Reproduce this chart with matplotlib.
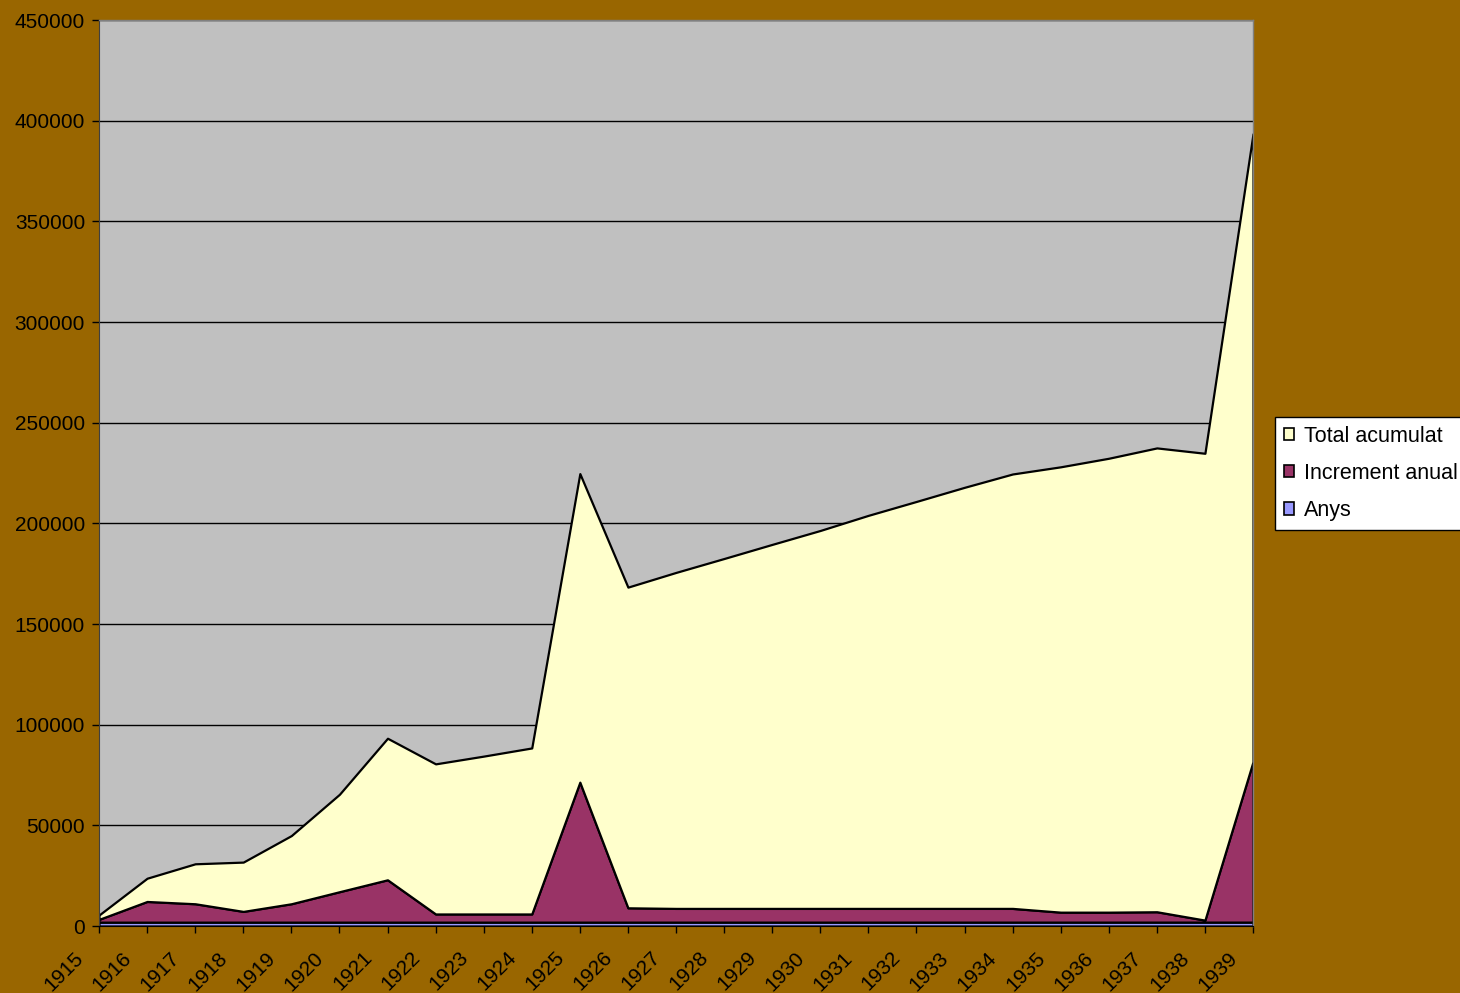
import matplotlib
matplotlib.use('Agg')
import matplotlib.pyplot as plt
import matplotlib.transforms as mtransforms

years = list(range(1915, 1940))
anys = years
increment = [1380, 10270, 9130, 5330, 9130, 15110, 21030, 4050, 4050, 4050,
             69520, 7110, 6810, 6810, 6810, 6810, 6810, 6810, 6810, 6810,
             4940, 4940, 5140, 990, 79690]
total = [2170, 11550, 19850, 24490, 33870, 48390, 70310, 74560, 78410, 82460,
         153260, 159280, 166890, 173800, 180810, 187720, 195230, 202140, 209150, 215770,
         221200, 225450, 230380, 231870, 311850]

plt.rcParams['font.family'] = ['Liberation Sans', 'DejaVu Sans']

fig = plt.figure(figsize=(14.6, 9.93), dpi=100)
fig.patch.set_facecolor('#996600')
ax = fig.add_axes([99 / 1460, 67 / 993, 1154 / 1460, 906 / 993])
ax.set_facecolor('#C0C0C0')

polys = ax.stackplot(years, anys, increment, total,
                     colors=['#9999FF', '#993366', '#FFFFCC'],
                     edgecolor='black', linewidth=1.6,
                     labels=['Anys', 'Increment anual', 'Total acumulat'])

ax.set_xlim(1915, 1939)
ax.set_ylim(0, 450000)
ax.set_yticks(range(0, 450001, 50000))
ax.set_yticklabels([str(v) for v in range(0, 450001, 50000)])
ax.set_xticks(years)
ax.set_xticklabels([str(y) for y in years], rotation=45, ha='right', va='top')

ax.yaxis.grid(True, color='black', linewidth=1)
ax.set_axisbelow(True)

ax.tick_params(axis='both', direction='out', length=5, width=1, color='black',
               labelsize=15, labelcolor='black')
ax.tick_params(axis='x', pad=8)
ax.tick_params(axis='y', pad=5)

offset = mtransforms.ScaledTranslation(-12 / 100, -4 / 100, fig.dpi_scale_trans)
for lbl in ax.get_xticklabels():
    lbl.set_transform(lbl.get_transform() + offset)

for side in ['top', 'right']:
    ax.spines[side].set_color('#808080')
    ax.spines[side].set_linewidth(1)
ax.spines['left'].set_color('#404040')
ax.spines['bottom'].set_color('black')

handles, labels = ax.get_legend_handles_labels()
leg = fig.legend(handles[::-1], labels[::-1], loc='center left',
                 bbox_to_anchor=(1275 / 1460, 1 - 473.5 / 993),
                 frameon=True, fancybox=False, framealpha=1, fontsize=15.5,
                 handlelength=0.5, handleheight=0.5, handletextpad=0.45,
                 labelspacing=0.75, borderpad=0.4, borderaxespad=0)
leg.get_frame().set_edgecolor('black')
leg.get_frame().set_linewidth(1)
leg.get_frame().set_facecolor('white')
for h in leg.legend_handles:
    h.set_linewidth(1.2)

fig.savefig('out.png', dpi=100, facecolor=fig.get_facecolor())
